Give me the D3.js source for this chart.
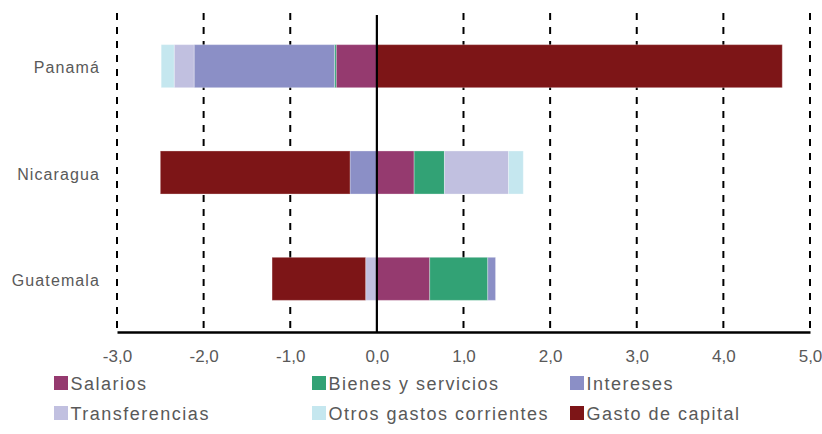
<!DOCTYPE html>
<html>
<head>
<meta charset="utf-8">
<script src="https://cdn.jsdelivr.net/npm/d3@7"></script>
<style>
  html, body { margin: 0; padding: 0; background: #fff; }
  svg { display: block; }
  text { font-family: "Liberation Sans", Arial, Helvetica, sans-serif; fill: #595959; }
</style>
</head>
<body>
<svg id="chart" width="822" height="434"></svg>
<script>
// Countries (top to bottom)
const countries = ["Panamá", "Nicaragua", "Guatemala"];

// Expenditure components, in stacking order
const components = ["Salarios", "Bienes y servicios", "Intereses", "Transferencias", "Otros gastos corrientes", "Gasto de capital"];
const colors = ["#953A6F", "#32A275", "#8B8FC6", "#C1C0E0", "#C5E7EF", "#7D1517"];

// Values per component, one entry per country (Panamá, Nicaragua, Guatemala)
const salarios        = [-0.47,  0.43, 0.61];
const bienes          = [-0.02,  0.35, 0.67];
const intereses       = [-1.62, -0.31, 0.09];
const transferencias  = [-0.23,  0.74, -0.13];
const otros           = [-0.15,  0.17, 0.00];
const gastoCapital    = [ 4.68, -2.19, -1.08];

// Axis ticks
const tickValues = [-3, -2, -1, 0, 1, 2, 3, 4, 5];

const seriesValues = [salarios, bienes, intereses, transferencias, otros, gastoCapital];
const rows = countries.map((c, i) => {
  const r = { country: c };
  components.forEach((k, j) => { r[k] = seriesValues[j][i]; });
  return r;
});

const svg = d3.select("#chart");
const plotTop = 13, plotBottom = 332;

const x = d3.scaleLinear().domain([-3, 5]).range([117, 810]);
const y = d3.scaleBand().domain(countries).range([plotTop, plotBottom])
  .paddingInner(0.595).paddingOuter(0.2975);
const color = d3.scaleOrdinal().domain(components).range(colors);

const locale = d3.formatLocale({ decimal: ",", thousands: ".", grouping: [3], currency: ["", ""], minus: "-" });
const fmt = locale.format(".1f");

// Dashed vertical gridlines
svg.append("g").selectAll("line")
  .data(tickValues.filter(v => v !== 0))
  .join("line")
  .attr("x1", d => x(d)).attr("x2", d => x(d))
  .attr("y1", plotTop).attr("y2", plotBottom)
  .attr("stroke", "#000").attr("stroke-width", 2)
  .attr("stroke-dasharray", "7,7");

// Stacked bars (positives stack right of zero, negatives left)
const stack = d3.stack().keys(components).offset(d3.stackOffsetDiverging);
const layers = stack(rows);

svg.append("g").selectAll("g")
  .data(layers)
  .join("g")
  .attr("fill", d => color(d.key))
  .selectAll("rect")
  .data(d => d)
  .join("rect")
  .attr("x", d => x(Math.min(d[0], d[1])))
  .attr("width", d => Math.abs(x(d[1]) - x(d[0])))
  .attr("y", d => y(d.data.country))
  .attr("height", y.bandwidth())
  .attr("stroke", "rgba(255,255,255,0.3)")
  .attr("stroke-width", 1);

// Zero line
svg.append("line")
  .attr("x1", x(0)).attr("x2", x(0))
  .attr("y1", 15).attr("y2", plotBottom)
  .attr("stroke", "#000").attr("stroke-width", 2.2);

// Horizontal axis
const xAxis = d3.axisBottom(x).tickValues(tickValues).tickFormat(fmt)
  .tickSizeInner(0).tickSizeOuter(0).tickPadding(0);
const gx = svg.append("g").attr("transform", `translate(0,${plotBottom})`).call(xAxis);
gx.select(".domain").attr("stroke", "#000").attr("stroke-width", 2.6);
gx.selectAll(".tick text")
  .attr("y", 30).attr("dy", 0)
  .attr("font-size", 17)
  .style("font-family", '"Liberation Sans", Arial, sans-serif')
  .attr("fill", "#595959");

// Category labels
svg.append("g").selectAll("text")
  .data(countries)
  .join("text")
  .attr("x", 100)
  .attr("y", d => y(d) + y.bandwidth() / 2 + 7)
  .attr("text-anchor", "end")
  .attr("font-size", 16)
  .attr("letter-spacing", 1.1)
  .text(d => d);

// Legend: three columns, two rows
const legendCols = [54, 312, 570];
const legendRows = [376, 406];
const legend = svg.append("g").selectAll("g")
  .data(components)
  .join("g")
  .attr("transform", (d, i) => `translate(${legendCols[i % 3]},${legendRows[Math.floor(i / 3)]})`);
legend.append("rect")
  .attr("width", 14).attr("height", 14)
  .attr("fill", d => color(d));
legend.append("text")
  .attr("x", 16.5).attr("y", 14)
  .attr("font-size", 18)
  .attr("letter-spacing", 1.5)
  .text(d => d);
</script>
</body>
</html>
